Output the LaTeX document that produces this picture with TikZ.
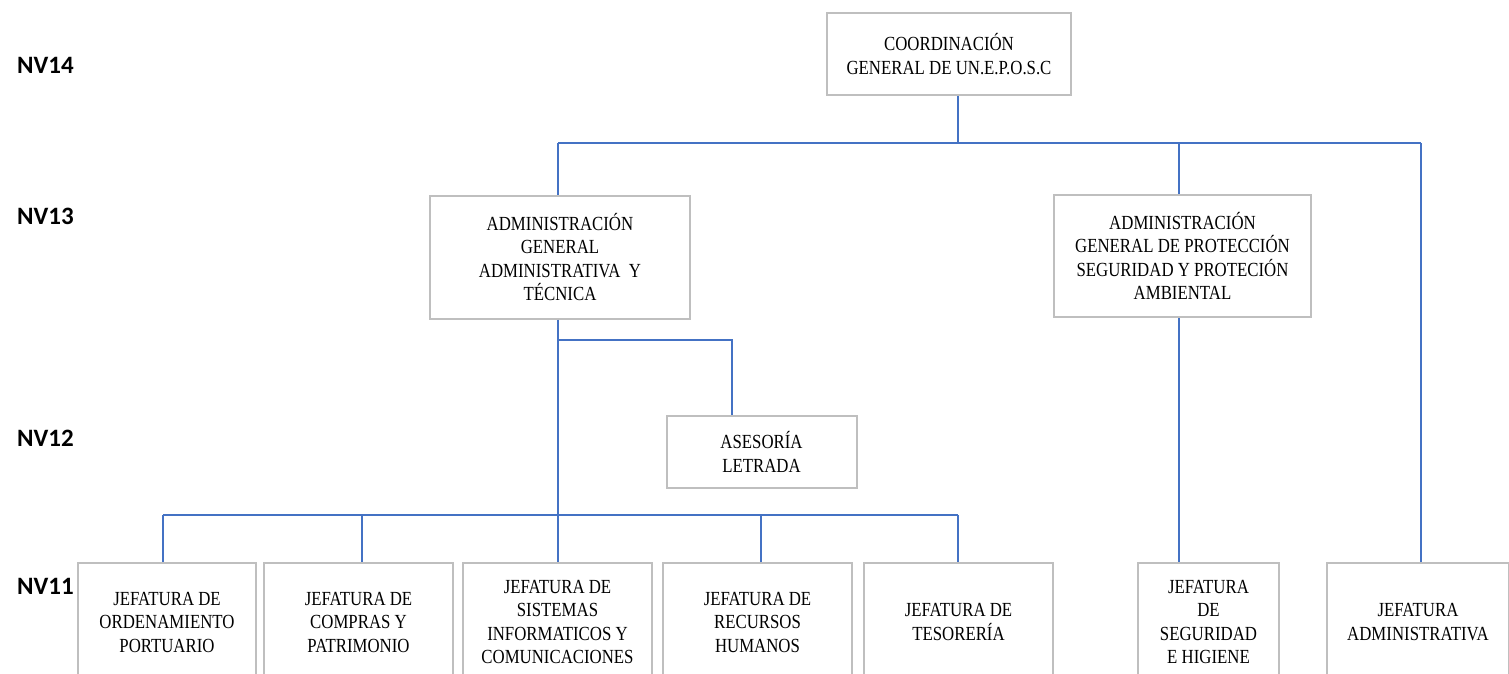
\documentclass[tikz,border=0pt]{standalone}
\usepackage{fontspec}
\setmainfont{Liberation Serif}[FakeStretch=0.84]
\newfontfamily\nvfont{Carlito}
\definecolor{linkblue}{HTML}{4472C4}
\definecolor{boxgray}{HTML}{BFBFBF}
\tikzset{
  orgbox/.style={draw=boxgray, line width=2bp, fill=white, rectangle, align=center,
    inner sep=0pt, font=\fontsize{20bp}{23.5bp}\selectfont},
  link/.style={draw=linkblue, line width=1.8bp},
  nvlabel/.style={anchor=west, inner sep=0pt, font=\nvfont\bfseries\fontsize{25bp}{28bp}\selectfont}
}
\begin{document}
\begin{tikzpicture}[x=1bp,y=-1bp]
\useasboundingbox (0,0) rectangle (1509,674);
\clip (0,0) rectangle (1509,674);
\fill[white] (0,0) rectangle (1509,674);

% level labels
\node[nvlabel] (nv14) at (17,65) {NV14};
\node[nvlabel] (nv13) at (17,216) {NV13};
\node[nvlabel] (nv12) at (17,438) {NV12};
\node[nvlabel] (nv11) at (17,586) {NV11};

% boxes
\node[orgbox, minimum width=244bp, minimum height=82bp] (coord) at (949,54)
  {COORDINACIÓN\\GENERAL DE UN.E.P.O.S.C};
\node[orgbox, minimum width=260bp, minimum height=123bp] (adm) at (560,257)
  {ADMINISTRACIÓN\\GENERAL\\ADMINISTRATIVA\ \ Y\\TÉCNICA};
\node[orgbox, minimum width=257bp, minimum height=122bp] (prot) at (1182.5,256)
  {ADMINISTRACIÓN\\GENERAL DE PROTECCIÓN\\SEGURIDAD Y PROTECIÓN\\AMBIENTAL};
\node[orgbox, minimum width=190bp, minimum height=72bp] (ases) at (761.5,452)
  {ASESORÍA\\LETRADA};

\node[orgbox, minimum width=178bp, minimum height=118bp] (ord) at (167,622)
  {JEFATURA DE\\ORDENAMIENTO\\PORTUARIO};
\node[orgbox, minimum width=189bp, minimum height=118bp] (comp) at (358.5,622)
  {JEFATURA DE\\COMPRAS Y\\PATRIMONIO};
\node[orgbox, minimum width=189bp, minimum height=118bp] (sis) at (557.5,622)
  {JEFATURA DE\\SISTEMAS\\INFORMATICOS Y\\COMUNICACIONES};
\node[orgbox, minimum width=189bp, minimum height=118bp] (rrhh) at (757.5,622)
  {JEFATURA DE\\RECURSOS\\HUMANOS};
\node[orgbox, minimum width=189bp, minimum height=118bp] (tes) at (958.5,622)
  {JEFATURA DE\\TESORERÍA};
\node[orgbox, minimum width=141bp, minimum height=118bp] (seg) at (1208.5,622)
  {JEFATURA\\DE\\SEGURIDAD\\E HIGIENE};
\node[orgbox, minimum width=182bp, minimum height=118bp] (jadm) at (1418,622)
  {JEFATURA\\ADMINISTRATIVA};

% connector points
\coordinate (hubtop) at (958,143);
\coordinate (busL) at (558,143);
\coordinate (busM) at (1179,143);
\coordinate (busR) at (1421,143);
\coordinate (brA) at (558,340);
\coordinate (brB) at (732,340);
\coordinate (b2L) at (163,515);
\coordinate (b2b) at (362,515);
\coordinate (b2c) at (558,515);
\coordinate (b2d) at (761,515);
\coordinate (b2R) at (958,515);

% connectors
\draw[link] (coord.south -| hubtop) -- (hubtop);
\draw[link] (busL) -- (busR);
\draw[link] (busL) -- (adm.north -| busL);
\draw[link] (busM) -- (prot.north -| busM);
\draw[link] (busR) -- (jadm.north -| busR);
\draw[link] (adm.south -| brA) -- (sis.north -| brA);
\draw[link] (brA) -- (brB) -- (ases.north -| brB);
\draw[link] (b2L) -- (b2R);
\draw[link] (b2L) -- (ord.north -| b2L);
\draw[link] (b2b) -- (comp.north -| b2b);
\draw[link] (b2d) -- (rrhh.north -| b2d);
\draw[link] (b2R) -- (tes.north -| b2R);
\draw[link] (prot.south -| busM) -- (seg.north -| busM);
\end{tikzpicture}
\end{document}
